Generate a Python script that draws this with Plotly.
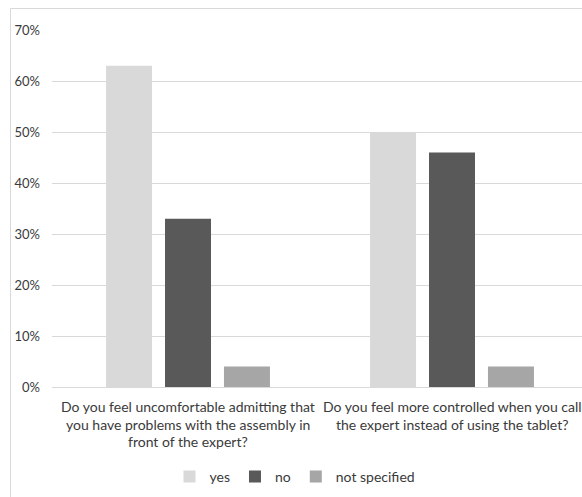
import plotly.graph_objects as go

categories = ["q1", "q2"]
category_lines = [
    ["Do you feel uncomfortable admitting that", "you have problems with the assembly in", "front of the expert?"],
    ["Do you feel more controlled when you call", "the expert instead of using the tablet?"],
]
series_names = ["yes", "no", "not specified"]
yes_vals = [0.63, 0.50]
no_vals = [0.33, 0.46]
ns_vals = [0.04, 0.04]
colors = ["#d9d9d9", "#595959", "#a6a6a6"]
tick_vals = [0, 0.1, 0.2, 0.3, 0.4, 0.5, 0.6, 0.7]
tick_text = ["0%", "10%", "20%", "30%", "40%", "50%", "60%", "70%"]

FONT = "Lato"
fig = go.Figure()
for name, vals, c in zip(series_names, [yes_vals, no_vals, ns_vals], colors):
    fig.add_trace(go.Bar(x=[0, 1], y=vals, name=name, marker=dict(color=c, line=dict(width=0))))

L, W, T, H = 52, 530, 30, 357
fig.update_layout(
    width=582, height=497,
    margin=dict(l=L, r=582 - L - W, t=T, b=497 - T - H, pad=0),
    paper_bgcolor="white", plot_bgcolor="white",
    barmode="group", bargap=0.33, bargroupgap=0.22,
    font=dict(family=FONT, size=14, color="#3a3a3a"),
    showlegend=True,
    legend=dict(orientation="h", x=(295 - L) / W, xanchor="center", y=(T + H - 477) / H, yanchor="middle",
                font=dict(family=FONT, size=14, color="#3a3a3a"), itemwidth=30, traceorder="normal"),
    xaxis=dict(range=[-136 / 264, 1 + 130 / 264], showticklabels=False, showgrid=False, zeroline=False,
               showline=False, ticks=""),
    yaxis=dict(range=[0, 0.7], tickvals=tick_vals, ticktext=tick_text, showgrid=True, gridcolor="#d9d9d9",
               gridwidth=1, zeroline=True, zerolinecolor="#d9d9d9", zerolinewidth=1, showline=False,
               ticks="", ticklabelstandoff=11, tickfont=dict(family=FONT, size=13, color="#3a3a3a")),
)

for ci, lines in enumerate(category_lines):
    for li, line in enumerate(lines):
        fig.add_annotation(x=ci, xref="x", y=(T + H - (406 + 18 * li)) / H, yref="paper", text=line,
                           showarrow=False, xanchor="center", yanchor="middle",
                           font=dict(family=FONT, size=14, color="#3a3a3a"))

fig.add_shape(type="rect", xref="paper", yref="paper",
              x0=(10.5 - L) / W, x1=(590 - L) / W, y0=(T + H - 505) / H, y1=(T + H - 8.5) / H,
              line=dict(color="#d9d9d9", width=1), fillcolor="rgba(0,0,0,0)", layer="below")

fig.write_html("out.html")
